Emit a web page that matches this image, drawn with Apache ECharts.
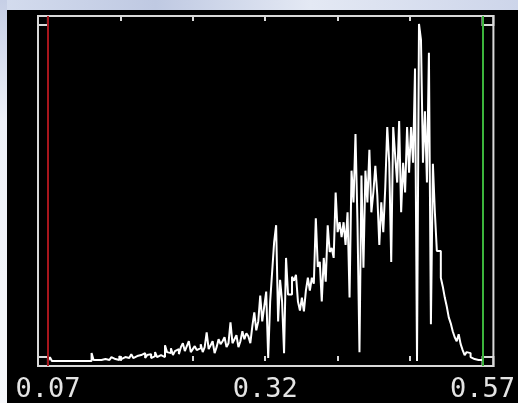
<!DOCTYPE html>
<html>
<head>
<meta charset="utf-8">
<script src="https://cdn.jsdelivr.net/npm/echarts@6/dist/echarts.min.js"></script>
<style>
html,body{margin:0;padding:0;background:#000;}
#chart{width:518px;height:403px;}
</style>
</head>
<body>
<div id="chart"></div>
<script>
// Histogram range (data units) and bin counts
const binStart = 0.07;
const binEnd = 0.57;
const tickValues = [0.15333, 0.23667, 0.32, 0.40333, 0.48667];
const labelValues = [0.07, 0.32, 0.57];
const counts = [
  0,4,0,0,0,0,0,0,0,0,0,0,0,0,0,0,0,0,0,0,0,0,
  8,1,
  1,1,1,1,2,1,1,2,
  4,2,3,1,5,2,4,6,3,2,7,3,5,3,6,
  4,8,3,6,7,3,5,9,4,6,8,4,
  16,9,8,13,6,10,12,7,14,18,10,15,20,9,12,15,11,13,
  17,9,14,29,12,16,20,8,14,22,17,20,24,14,18,
  39,18,22,26,14,20,30,22,28,25,18,35,49,31,40,
  66,40,55,70,3,60,90,120,137,40,82,60,8,104,67,67,85,81,87,60,
  51,64,50,71,84,71,84,78,144,95,100,60,104,80,137,110,114,104,170,130,
  140,125,140,117,150,64,192,160,229,140,9,187,94,192,160,213,150,170,197,167,
  117,160,130,175,236,200,100,236,207,180,242,150,200,170,236,190,236,200,295,0,
  340,324,200,252,180,311,37,199,150,111,111,84,75,64,55,44,38,30,24,20,
  27,17,11,6,9,8,4,2,3,1,2,1
];

const binWidth = (binEnd - binStart) / counts.length;
const histData = counts.map((c, i) => [binStart + i * binWidth, c]);
histData.push([binEnd, counts[counts.length - 1]]);

const xMin = 0.05858, xMax = 0.58256;
const yMin = -5, yMax = 348;
const handleH = 9;
const frameColor = '#d9d9d9';

const chart = echarts.init(document.getElementById('chart'), null, {renderer: 'canvas'});
const xCommon = {
  type: 'value', min: xMin, max: xMax,
  axisLine: {show: false},
  splitLine: {show: false},
  axisTick: {show: true, inside: true, length: 5, customValues: tickValues,
             lineStyle: {color: frameColor, width: 2}}
};
chart.setOption({
  animation: false,
  backgroundColor: '#000',
  graphic: [
    {type: 'rect', shape: {x: 0, y: 0, width: 518, height: 10}, z: 100,
     style: {fill: new echarts.graphic.LinearGradient(0, 0, 1, 0, [
       {offset: 0, color: '#d4dcee'}, {offset: 0.3, color: '#bfc9e2'},
       {offset: 0.6, color: '#e4e9f4'}, {offset: 1, color: '#cdd5ea'}])}},
    {type: 'rect', shape: {x: 0, y: 0, width: 7, height: 403}, z: 100,
     style: {fill: new echarts.graphic.LinearGradient(0, 0, 0, 1, [
       {offset: 0, color: '#c6cfe6'}, {offset: 0.3, color: '#eef1f8'}, {offset: 1, color: '#f7f8fb'}])}}
  ],
  grid: {left: 38, right: 21, top: 16, bottom: 34, show: true,
         borderColor: frameColor, borderWidth: 2, backgroundColor: '#000'},
  xAxis: [
    Object.assign({}, xCommon, {
      position: 'bottom',
      axisLabel: {show: true, customValues: labelValues, margin: 10,
        formatter: v => v.toFixed(2),
        color: '#e4e4e4', fontFamily: 'DejaVu Sans Mono', fontSize: 27}
    }),
    Object.assign({}, xCommon, {position: 'top', axisLabel: {show: false}})
  ],
  yAxis: {type: 'value', min: yMin, max: yMax, show: false},
  series: [{
    type: 'line',
    step: 'end',
    data: histData,
    showSymbol: false,
    symbol: 'none',
    lineStyle: {color: '#ffffff', width: 2},
    markLine: {
      silent: true, symbol: 'none', label: {show: false},
      data: [
        {xAxis: binStart, lineStyle: {color: '#a8161c', width: 2, type: 'solid'}},
        {xAxis: binEnd, lineStyle: {color: '#3cb43c', width: 2, type: 'solid'}}
      ]
    },
    markArea: {
      silent: true,
      itemStyle: {color: 'rgba(0,0,0,0)', borderColor: frameColor, borderWidth: 2},
      data: [
        [{xAxis: xMin, yAxis: yMax - handleH}, {xAxis: binStart, yAxis: yMax}],
        [{xAxis: xMin, yAxis: yMin}, {xAxis: binStart, yAxis: yMin + handleH}],
        [{xAxis: binEnd, yAxis: yMax - handleH}, {xAxis: xMax, yAxis: yMax}],
        [{xAxis: binEnd, yAxis: yMin}, {xAxis: xMax, yAxis: yMin + handleH}]
      ]
    }
  }]
});
</script>
</body>
</html>
